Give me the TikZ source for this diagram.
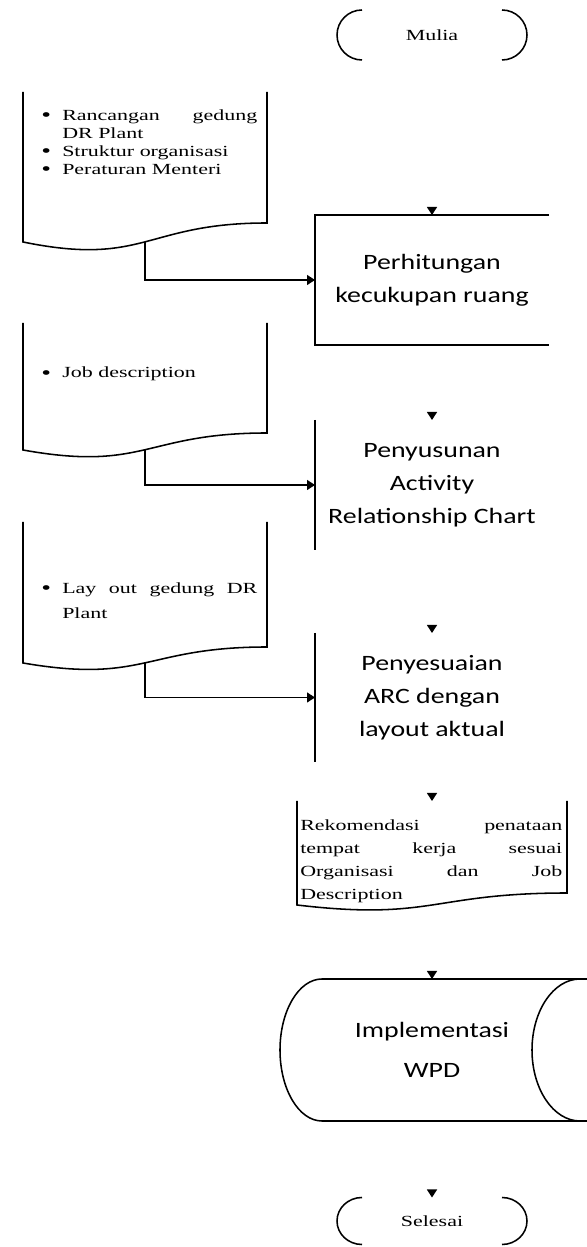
\documentclass[tikz,border=0pt]{standalone}
\usepackage{fontspec}
\usepackage{tikz}
\usetikzlibrary{arrows.meta}
\newfontfamily\boxfont[FakeStretch=1.27]{Carlito}
\newfontfamily\docfont[FakeStretch=1.42]{Liberation Serif}
\tikzset{%
  procbox/.style={inner sep=0pt, outer sep=0pt, align=center, font=\boxfont\fontsize{15.6}{23.5}\selectfont},%
  docbox/.style={inner sep=0pt, outer sep=0pt},%
  doctext/.style={inner sep=0pt, anchor=north west, align=justify, font=\docfont\fontsize{11}{12.8}\selectfont},%
  termtext/.style={inner sep=0pt, outer sep=0pt, font=\docfont\fontsize{11}{14}\selectfont},%
  outline/.style={line width=1.1pt},%
  feed/.style={line width=0.9pt, -{Triangle[width=0.25cm,length=0.2cm]}},%
  flowhead/.style={draw=white, line width=0.9pt, shorten <=1pt, -{Triangle[black,width=0.25cm,length=0.2cm]}}%
}
\newcommand{\bul}{\hangindent=0.525cm\hangafter=1\noindent\makebox[0.525cm][l]{\smash{\raisebox{-1.2pt}{\fontsize{14}{12}\selectfont\textbullet}}}}

\begin{document}
\begin{tikzpicture}%
\useasboundingbox (0,0) rectangle (14.675, 31.175);%
% main column
\node[termtext, minimum width=4.75cm, minimum height=1.25cm] (mulai) at (10.8, 30.3) {Mulia};%
\node[procbox, minimum width=5.85cm, minimum height=3.25cm] (perh) at (10.8, 24.175) {Perhitungan\\kecukupan ruang};%
\node[procbox, minimum width=5.85cm, minimum height=3.25cm] (susun) at (10.8, 19.05) {Penyusunan\\Activity\\Relationship Chart};%
\node[procbox, minimum width=5.85cm, minimum height=3.225cm] (sesuai) at (10.8, 13.7375) {Penyesuaian\\ARC dengan\\layout aktual};%
\node[docbox, minimum width=6.75cm, minimum height=2.3cm] (rekom) at (10.8, 10.0) {};%
\node[doctext, text width=6.55cm, font=\docfont\fontsize{11}{16.4}\selectfont] (rekom-lbl) at ([xshift=0.075cm,yshift=-0.45cm]rekom.north west) {Rekomendasi penataan\linebreak tempat kerja sesuai\linebreak Organisasi dan Job\linebreak Description};%
\node[procbox, minimum width=7.6cm, minimum height=3.55cm, font=\boxfont\fontsize{15.6}{28.5}\selectfont] (impl) at (10.8, 4.925) {Implementasi\\WPD};%
\node[termtext, minimum width=4.75cm, minimum height=1.175cm] (selesai) at (10.8, 0.65) {Selesai};%
% inputs
\node[docbox, minimum width=6.1cm, minimum height=3.275cm] (src1) at (3.625, 27.2375) {};%
\node[doctext, text width=5.4cm] (src1-lbl) at ([xshift=0.45cm,yshift=-0.43cm]src1.north west) {\bul Rancangan gedung\linebreak DR Plant\par\bul Struktur organisasi\par\bul Peraturan Menteri\par};%
\node[docbox, minimum width=6.1cm, minimum height=2.75cm] (src2) at (3.625, 21.725) {};%
\node[doctext, text width=5.4cm] (src2-lbl) at ([xshift=0.45cm,yshift=-1.1cm]src2.north west) {\bul Job description\par};%
\node[docbox, minimum width=6.1cm, minimum height=3.125cm] (src3) at (3.625, 16.5625) {};%
\node[doctext, text width=5.4cm, font=\docfont\fontsize{11}{17.8}\selectfont] (src3-lbl) at ([xshift=0.45cm,yshift=-1.5cm]src3.north west) {\bul Lay out gedung DR\linebreak Plant\par};%
\coordinate (src1-out) at (3.625, 25.13);%
\coordinate (src2-out) at (3.625, 19.93);%
\coordinate (src3-out) at (3.625, 14.6);%
\coordinate (rekom-out) at (10.8, 8.55);%
% connectors
\draw[flowhead] (mulai.south) -- (perh.north);%
\draw[flowhead] (perh.south) -- (susun.north);%
\draw[flowhead] (susun.south) -- (sesuai.north);%
\draw[flowhead] (sesuai.south) -- (rekom.north);%
\draw[flowhead] (rekom-out) -- (impl.north);%
\draw[flowhead] (impl.south) -- (selesai.north);%
\draw[feed] (src1-out) |- (perh.west);%
\draw[feed] (src2-out) |- (susun.west);%
\draw[feed] (src3-out) |- (sesuai.west);%
% outlines
\draw[outline] ([xshift=0.625cm]mulai.north west) arc[start angle=90, end angle=270, radius=0.625cm];%
\draw[outline] ([xshift=-0.625cm]mulai.north east) arc[start angle=90, end angle=-90, radius=0.625cm];%
\draw[outline] (perh.north east) -- (perh.north west) -- (perh.south west) -- (perh.south east);%
\draw[outline] (susun.north west) -- (susun.south west);%
\draw[outline] (sesuai.north west) -- (sesuai.south west);%
\draw[outline] (rekom.north west) -- (7.425, 8.55) .. controls (10.8, 8.15) and (10.8, 8.85) .. (rekom.south east) -- (rekom.north east);%
\draw[outline] (14.675, 6.7) -- (8.05, 6.7) arc[start angle=90, end angle=270, x radius=1.05cm, y radius=1.775cm] -- (14.675, 3.15);%
\draw[outline] (14.5, 6.7) arc[start angle=90, end angle=270, x radius=1.2cm, y radius=1.775cm];%
\draw[outline] ([xshift=0.625cm]selesai.north west) arc[start angle=90, end angle=270, x radius=0.625cm, y radius=0.5875cm];%
\draw[outline] ([xshift=-0.625cm]selesai.north east) arc[start angle=90, end angle=-90, x radius=0.625cm, y radius=0.5875cm];%
\draw[outline] (src1.north west) -- (0.575, 25.125) .. controls (3.625, 24.5) and (3.625, 25.6) .. (src1.south east) -- (src1.north east);%
\draw[outline] (src2.north west) -- (0.575, 19.925) .. controls (3.625, 19.375) and (3.625, 20.35) .. (src2.south east) -- (src2.north east);%
\draw[outline] (src3.north west) -- (0.575, 14.6) .. controls (3.625, 14.075) and (3.625, 15.0) .. (src3.south east) -- (src3.north east);%
\end{tikzpicture}
\end{document}
